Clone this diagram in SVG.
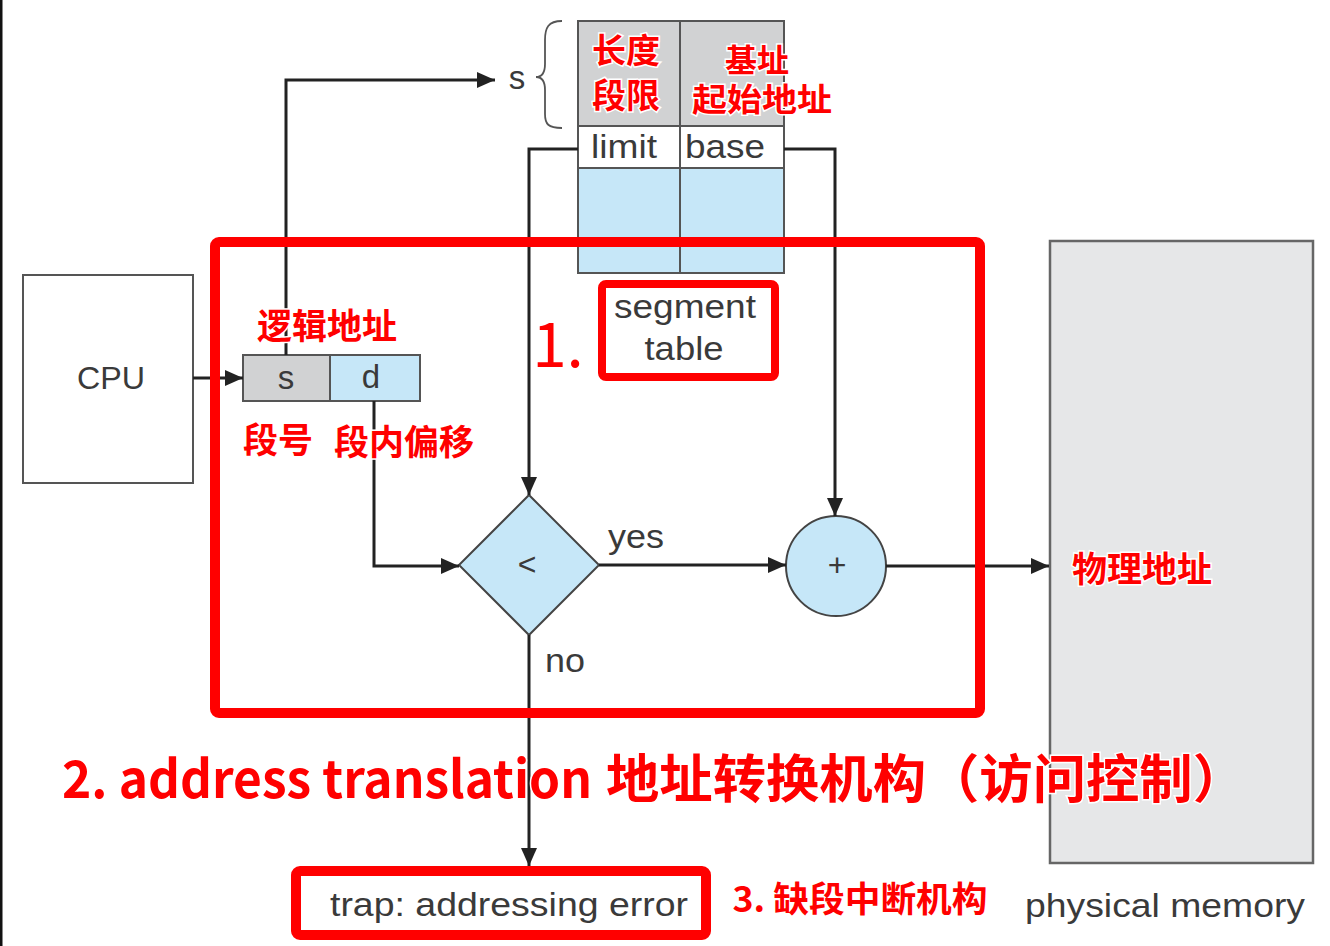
<svg xmlns="http://www.w3.org/2000/svg" width="1330" height="946" viewBox="0 0 1330 946">
<style>
.ln{fill:none;stroke:#222;stroke-width:3}
.box{stroke:#555;stroke-width:2}
.gt{font-family:"Liberation Sans",Arial,sans-serif;fill:#3a3a3a;text-anchor:middle;dominant-baseline:central}
.rt{font-family:"Noto Sans CJK SC",sans-serif;font-weight:bold;fill:#ff0000;text-anchor:middle;dominant-baseline:central;stroke:#fff;stroke-width:3;paint-order:stroke}
.rs{text-anchor:start}
.red{fill:none;stroke:#ff0000;stroke-width:10}
</style>
<defs>
<marker id="ah" markerUnits="userSpaceOnUse" markerWidth="18" markerHeight="16" refX="18" refY="8" orient="auto">
<path d="M0,0 L18,8 L0,16 z" fill="#222"/>
</marker>
</defs>
<rect width="1330" height="946" fill="#fff"/>
<rect x="0" y="0" width="2.5" height="946" fill="#111"/>

<g id="physical-memory">
<rect x="1050" y="241" width="263" height="622" fill="#e6e7e8" stroke="#666" stroke-width="2.5"/>
<text class="gt" x="1165" y="905" font-size="34" textLength="280" lengthAdjust="spacingAndGlyphs">physical memory</text>
</g>

<g id="cpu">
<rect class="box" x="23" y="275" width="170" height="208" fill="#fff"/>
<text class="gt" x="111" y="378" font-size="32" textLength="68" lengthAdjust="spacingAndGlyphs">CPU</text>
</g>

<g id="logical-address">
<rect class="box" x="243" y="355" width="87" height="46" fill="#d1d2d3"/>
<rect class="box" x="330" y="355" width="90" height="46" fill="#c6e7f8"/>
<text class="gt" x="286" y="377" font-size="33">s</text>
<text class="gt" x="371" y="376" font-size="33">d</text>
</g>

<g id="segment-table">
<rect x="578" y="21" width="206" height="105" fill="#d1d2d3" stroke="#555" stroke-width="2"/>
<rect x="578" y="126" width="206" height="42" fill="#fff" stroke="#555" stroke-width="2"/>
<rect x="578" y="168" width="206" height="105" fill="#c6e7f8" stroke="#555" stroke-width="2"/>
<line x1="680" y1="21" x2="680" y2="273" stroke="#555" stroke-width="2"/>
<text class="gt" x="624" y="146" font-size="34" textLength="66" lengthAdjust="spacingAndGlyphs">limit</text>
<text class="gt" x="725" y="146" font-size="34" textLength="80" lengthAdjust="spacingAndGlyphs">base</text>
<text class="gt" x="517" y="77" font-size="33">s</text>
<path d="M562,21 C548,21 545,28 545,40 L545,64 C545,72 542,77 536,77 C542,77 545,82 545,90 L545,114 C545,124 548,128 562,128" fill="none" stroke="#555" stroke-width="1.8"/>
<text class="gt" x="685" y="306" font-size="34" textLength="142" lengthAdjust="spacingAndGlyphs">segment</text>
<text class="gt" x="684" y="348" font-size="34" textLength="79" lengthAdjust="spacingAndGlyphs">table</text>
</g>

<g id="compare">
<polygon points="529,495 599,565 529,635 459,565" fill="#c6e7f8" stroke="#444" stroke-width="2"/>
<text class="gt" x="527" y="564" font-size="32">&lt;</text>
</g>

<g id="adder">
<circle cx="836" cy="566" r="50" fill="#c6e7f8" stroke="#444" stroke-width="2"/>
<text class="gt" x="837" y="565" font-size="32">+</text>
</g>

<g id="trap">
<rect x="296" y="871" width="410" height="64" rx="4" fill="#fff" stroke="#ff0000" stroke-width="10"/>
<text class="gt" x="509" y="904" font-size="34" textLength="358" lengthAdjust="spacingAndGlyphs">trap: addressing error</text>
</g>

<g id="connectors">
<polyline class="ln" points="193,378 243,378" marker-end="url(#ah)"/>
<polyline class="ln" points="286,355 286,80 495,80" marker-end="url(#ah)"/>
<polyline class="ln" points="578,149 529,149 529,495" marker-end="url(#ah)"/>
<polyline class="ln" points="784,149 835,149 835,516" marker-end="url(#ah)"/>
<polyline class="ln" points="374,401 374,566 459,566" marker-end="url(#ah)"/>
<polyline class="ln" points="599,565 786,565" marker-end="url(#ah)"/>
<polyline class="ln" points="886,566 1049,566" marker-end="url(#ah)"/>
<polyline class="ln" points="529,635 529,866" marker-end="url(#ah)"/>
<text class="gt" x="636" y="536" font-size="34" textLength="56" lengthAdjust="spacingAndGlyphs">yes</text>
<text class="gt" x="565" y="660" font-size="34" textLength="40" lengthAdjust="spacingAndGlyphs">no</text>
</g>

<g id="annotations">
<rect class="red" x="215" y="242" width="765" height="471" rx="4"/>
<rect x="602" y="284" width="173" height="93" rx="4" fill="none" stroke="#ff0000" stroke-width="8"/>
<text class="rt" x="626" y="48" font-size="34">长度</text>
<text class="rt" x="626" y="93" font-size="34">段限</text>
<text class="rt" x="757" y="58" font-size="32">基址</text>
<text class="rt" x="762" y="97" font-size="32" textLength="140" lengthAdjust="spacingAndGlyphs">起始地址</text>
<text class="rt" x="327" y="323" font-size="35">逻辑地址</text>
<text class="rt" x="278" y="437" font-size="35">段号</text>
<text class="rt" x="404" y="439" font-size="35">段内偏移</text>
<text class="rt" x="1142" y="566" font-size="35">物理地址</text>
<text class="rt" x="860" y="896" font-size="35" textLength="255" lengthAdjust="spacingAndGlyphs">3. 缺段中断机构</text>
<text class="rt" x="558" y="340" font-size="62" style="font-weight:normal">1.</text>
<text class="rt rs" x="62" y="775" font-size="52" textLength="530" lengthAdjust="spacingAndGlyphs">2. address translation</text>
<text class="rt rs" x="606" y="775" font-size="52" textLength="640" lengthAdjust="spacingAndGlyphs">地址转换机构（访问控制）</text>
</g>
</svg>
